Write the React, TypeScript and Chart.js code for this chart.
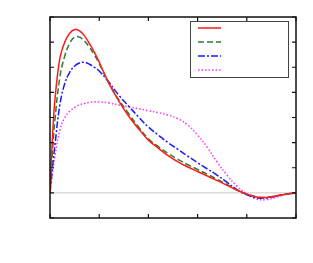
import React, { useEffect, useRef } from "react";
import { Chart, registerables } from "chart.js";

Chart.register(...registerables);

const xs = [0, 0.05, 0.1, 0.2, 0.3, 0.4, 0.5, 0.6, 0.7, 0.8, 0.9, 1.0, 1.2, 1.4, 1.6, 1.8, 2.0, 2.2, 2.4, 2.6, 2.8, 3.0, 3.2, 3.4, 3.6, 3.8, 4.0, 4.2, 4.4, 4.6, 4.8, 5.0];
const redVals = [0, 2.2, 3.7, 5.35, 6.0, 6.35, 6.5, 6.45, 6.25, 5.95, 5.6, 5.2, 4.35, 3.65, 3.05, 2.55, 2.1, 1.78, 1.48, 1.23, 1.03, 0.85, 0.67, 0.49, 0.3, 0.11, -0.05, -0.16, -0.18, -0.12, -0.05, 0];
const greenVals = [0, 1.6, 2.9, 4.6, 5.45, 5.95, 6.2, 6.2, 6.05, 5.8, 5.5, 5.15, 4.35, 3.7, 3.15, 2.62, 2.15, 1.84, 1.57, 1.33, 1.12, 0.93, 0.74, 0.54, 0.33, 0.12, -0.05, -0.16, -0.18, -0.12, -0.05, 0];
const blueVals = [0, 1.0, 1.9, 3.5, 4.35, 4.8, 5.05, 5.17, 5.2, 5.12, 5.0, 4.85, 4.4, 3.88, 3.45, 3.02, 2.62, 2.3, 2.0, 1.73, 1.46, 1.2, 0.95, 0.7, 0.42, 0.13, -0.08, -0.2, -0.2, -0.13, -0.05, 0];
const magentaVals = [0, 0.75, 1.45, 2.5, 3.0, 3.25, 3.4, 3.5, 3.56, 3.6, 3.62, 3.62, 3.58, 3.5, 3.42, 3.35, 3.27, 3.19, 3.1, 2.95, 2.7, 2.3, 1.8, 1.22, 0.7, 0.27, -0.04, -0.25, -0.27, -0.17, -0.06, 0];

const xTicks = [0, 1, 2, 3, 4, 5];
const yTicks = [-1, 0, 1, 2, 3, 4, 5, 6, 7];

const series = [
  { name: "a", values: redVals, color: "#ff1a1a", dash: [] as number[] },
  { name: "b", values: greenVals, color: "#2e7d32", dash: [6, 3] },
  { name: "c", values: blueVals, color: "#1a1aff", dash: [7, 2, 2, 2] },
  { name: "d", values: magentaVals, color: "#ff33ff", dash: [1.5, 2] },
];

const framePlugin = {
  id: "frame",
  beforeDatasetsDraw(chart: any) {
    const { ctx, chartArea: a, scales } = chart;
    const y0 = scales.y.getPixelForValue(0);
    ctx.save();
    ctx.strokeStyle = "#c8c8c8";
    ctx.lineWidth = 1;
    ctx.beginPath();
    ctx.moveTo(a.left, y0);
    ctx.lineTo(a.right, y0);
    ctx.stroke();
    ctx.restore();
  },
  afterDatasetsDraw(chart: any) {
    const { ctx, chartArea: a, scales } = chart;
    ctx.save();
    ctx.strokeStyle = "#111";
    ctx.lineWidth = 1.5;
    ctx.strokeRect(a.left, a.top, a.right - a.left, a.bottom - a.top);
    ctx.lineWidth = 1.2;
    const L = 4;
    ctx.beginPath();
    xTicks.forEach((t) => {
      const x = scales.x.getPixelForValue(t);
      ctx.moveTo(x, a.bottom);
      ctx.lineTo(x, a.bottom - L);
      ctx.moveTo(x, a.top);
      ctx.lineTo(x, a.top + L);
    });
    yTicks.forEach((t) => {
      const y = scales.y.getPixelForValue(t);
      ctx.moveTo(a.left, y);
      ctx.lineTo(a.left + L, y);
      ctx.moveTo(a.right, y);
      ctx.lineTo(a.right - L, y);
    });
    ctx.stroke();

    // legend box
    const bx = 190, by = 21, bw = 98, bh = 56;
    ctx.fillStyle = "#ffffff";
    ctx.fillRect(bx, by, bw, bh);
    ctx.strokeStyle = "#444";
    ctx.lineWidth = 1;
    ctx.strokeRect(bx + 0.5, by + 0.5, bw, bh);
    series.forEach((s, i) => {
      const y = by + 7 + i * 14;
      ctx.strokeStyle = s.color;
      ctx.lineWidth = 1.5;
      ctx.setLineDash(s.dash);
      ctx.beginPath();
      ctx.moveTo(198, y);
      ctx.lineTo(221, y);
      ctx.stroke();
    });
    ctx.setLineDash([]);
    ctx.restore();
  },
};

export default function App() {
  const ref = useRef<HTMLCanvasElement>(null);
  useEffect(() => {
    document.body.style.margin = "0";
    const chart = new Chart(ref.current!, {
      type: "line",
      data: {
        datasets: series.map((s) => ({
          label: s.name,
          data: xs.map((x, i) => ({ x, y: s.values[i] })),
          borderColor: s.color,
          borderDash: s.dash,
          borderWidth: 1.5,
          pointRadius: 0,
          tension: 0.4,
          fill: false,
        })),
      },
      options: {
        animation: false,
        responsive: false,
        maintainAspectRatio: false,
        layout: { padding: { left: 50, top: 17, right: 17, bottom: 45 } },
        plugins: { legend: { display: false }, tooltip: { enabled: false } },
        scales: {
          x: {
            type: "linear",
            min: 0,
            max: 5,
            ticks: { display: false },
            grid: { display: false, drawTicks: false },
            border: { display: false },
          },
          y: {
            type: "linear",
            min: -1,
            max: 7,
            ticks: { display: false },
            grid: { display: false, drawTicks: false },
            border: { display: false },
          },
        },
      },
      plugins: [framePlugin],
    });
    return () => chart.destroy();
  }, []);
  return <canvas ref={ref} width={313} height={263} style={{ display: "block" }} />;
}
